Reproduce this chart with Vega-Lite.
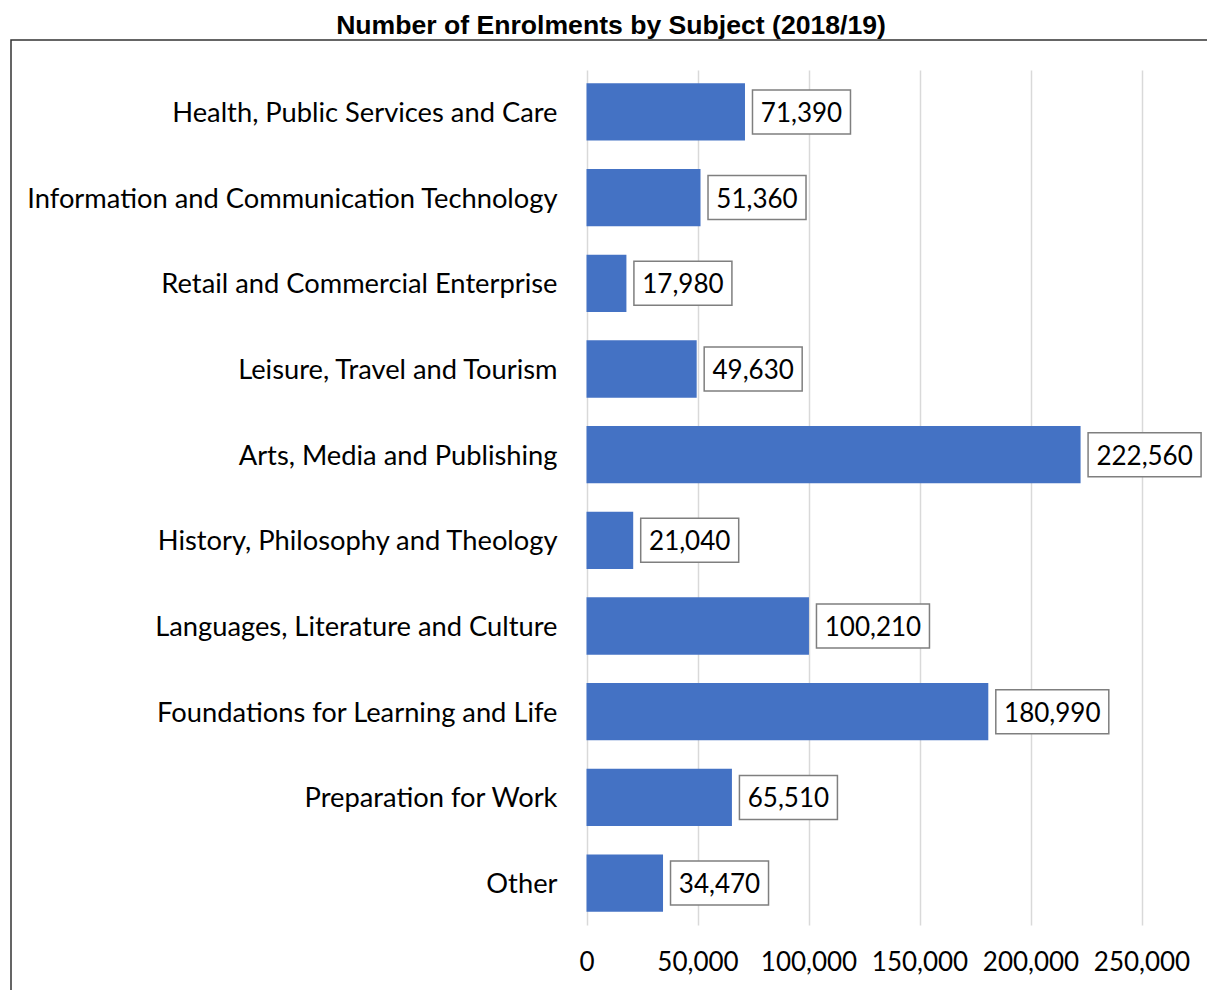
{
  "$schema": "https://vega.github.io/schema/vega-lite/v6.json",
  "autosize": "none",
  "padding": {"left": 11, "top": 40, "right": 0, "bottom": 0},
  "width": 1200,
  "height": 960,
  "title": {
    "text": "Number of Enrolments by Subject (2018/19)",
    "font": "Liberation Sans",
    "fontSize": 26.6,
    "fontWeight": "bold",
    "color": "#000000",
    "anchor": "middle",
    "baseline": "alphabetic",
    "offset": 7,
    "dy": 28
  },
  "config": {
    "view": {"stroke": "#333333", "strokeWidth": 1.5},
    "font": "Lato"
  },
  "data": {
    "values": [
      {"subject": "Health, Public Services and Care", "value": 71390},
      {"subject": "Information and Communication Technology", "value": 51360},
      {"subject": "Retail and Commercial Enterprise", "value": 17980},
      {"subject": "Leisure, Travel and Tourism", "value": 49630},
      {"subject": "Arts, Media and Publishing", "value": 222560},
      {"subject": "History, Philosophy and Theology", "value": 21040},
      {"subject": "Languages, Literature and Culture", "value": 100210},
      {"subject": "Foundations for Learning and Life", "value": 180990},
      {"subject": "Preparation for Work", "value": 65510},
      {"subject": "Other", "value": 34470}
    ]
  },
  "encoding": {
    "y": {
      "field": "subject",
      "type": "nominal",
      "sort": null,
      "scale": {"range": [30, 885], "paddingInner": 0.331, "paddingOuter": 0.155},
      "axis": {
        "title": null,
        "orient": "left",
        "offset": -575.5,
        "domain": false,
        "ticks": false,
        "grid": false,
        "labelPadding": 29.5,
        "labelOffset": 2,
        "labelFont": "Lato",
        "labelFontSize": 27.3,
        "labelColor": "#000000",
        "labelLimit": 800
      }
    }
  },
  "resolve": {"axis": {"x": "independent"}},
  "layer": [
    {
      "mark": {"type": "bar", "color": "#4472C4"},
      "encoding": {
        "x": {
          "field": "value",
          "type": "quantitative",
          "scale": {"domain": [-259234, 281306], "nice": false, "zero": false},
          "axis": {
            "title": null,
            "orient": "top",
            "values": [0, 50000, 100000, 150000, 200000, 250000],
            "domain": false,
            "ticks": false,
            "labels": false,
            "grid": true,
            "gridColor": "#d9d9d9",
            "gridWidth": 1.5,
            "zindex": 0
          }
        }
      }
    },
    {
      "mark": {
        "type": "bar",
        "height": 44,
        "fill": "#ffffff",
        "stroke": "#7f7f7f",
        "strokeWidth": 1.5,
        "xOffset": 7.5,
        "x2Offset": {"expr": "datum.value >= 100000 ? 120.5 : 105.5"}
      },
      "encoding": {
        "x": {"field": "value", "type": "quantitative", "axis": null},
        "x2": {"field": "value"}
      }
    },
    {
      "mark": {
        "type": "text",
        "align": "center",
        "baseline": "middle",
        "font": "Lato",
        "fontSize": 26,
        "color": "#000000",
        "dy": 2,
        "xOffset": {"expr": "datum.value >= 100000 ? 64 : 56.5"}
      },
      "encoding": {
        "x": {
          "field": "value",
          "type": "quantitative",
          "axis": {
            "title": null,
            "orient": "bottom",
            "values": [0, 50000, 100000, 150000, 200000, 250000],
            "format": ",.0f",
            "offset": -38,
            "domain": false,
            "ticks": false,
            "grid": false,
            "labelPadding": 0,
            "labelBaseline": "middle",
            "labelFont": "Lato",
            "labelFontSize": 26,
            "labelColor": "#000000",
            "labelFlush": false,
            "labelOverlap": false
          }
        },
        "text": {"field": "value", "type": "quantitative", "format": ","}
      }
    }
  ]
}
